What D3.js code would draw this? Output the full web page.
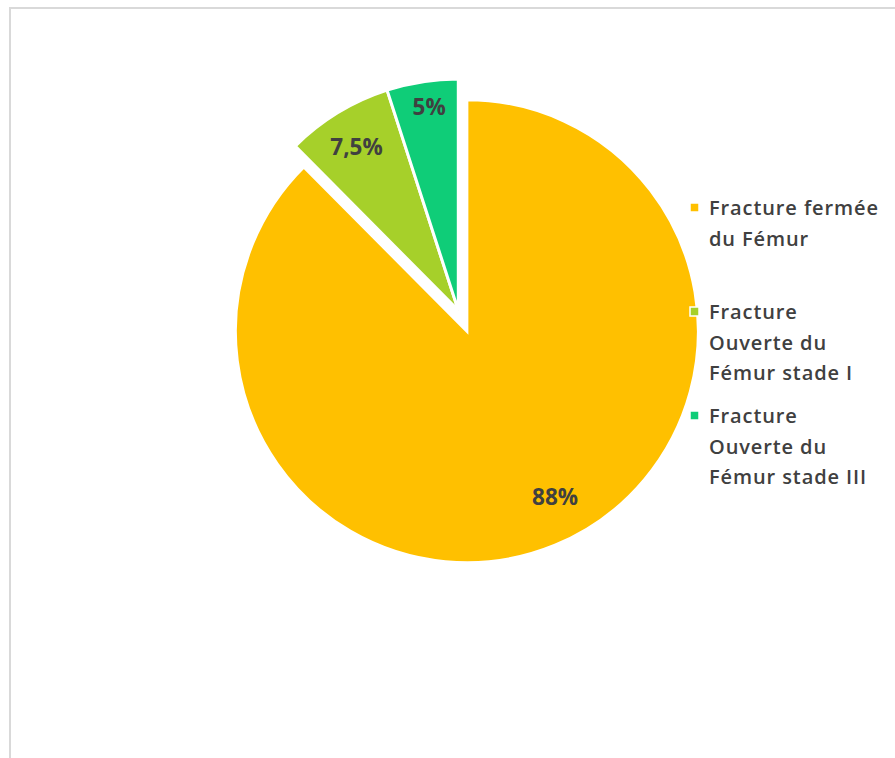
<!DOCTYPE html>
<html>
<head>
<meta charset="utf-8">
<script src="https://cdn.jsdelivr.net/npm/d3@7"></script>
<style>
  html, body { margin: 0; padding: 0; background: #fff; }
  svg { display: block; }
</style>
</head>
<body>
<svg id="chart" width="895" height="758"></svg>
<script>
// Répartition des fractures du fémur
const categories = [
  ["Fracture fermée", "du Fémur"],
  ["Fracture", "Ouverte du", "Fémur stade I"],
  ["Fracture", "Ouverte du", "Fémur stade III"]
];
const values = [88, 7.5, 5];
const valueLabels = ["88%", "7,5%", "5%"];
const colors = ["#FFC000", "#A6D02A", "#0FCD78"];

const W = 895, H = 758;
const svg = d3.select("#chart");

// chart area frame
svg.append("rect")
  .attr("x", 10).attr("y", 8)
  .attr("width", W + 10).attr("height", H + 10)
  .attr("fill", "#fff")
  .attr("stroke", "#d9d9d9")
  .attr("stroke-width", 2);

const cx = 458.3, cy = 310.4, radius = 231.5;
// explosion distance per slice (first slice pulled out)
const explode = [22.5, 0, 0];
// label placement: radial distance and angular nudge (degrees)
const labelRadius = [188, 193, 206];
const labelNudge = [-5.6, -0.5, 0.8];

const pie = d3.pie().sort(null).value(d => d);
const arcs = pie(values);
const arc = d3.arc().innerRadius(0).outerRadius(radius);

const g = svg.append("g").attr("transform", `translate(${cx},${cy})`);

const slices = g.selectAll("g.slice")
  .data(arcs)
  .join("g")
  .attr("class", "slice")
  .attr("transform", (d, i) => {
    const a = (d.startAngle + d.endAngle) / 2;
    return `translate(${explode[i] * Math.sin(a)},${-explode[i] * Math.cos(a)})`;
  });

slices.append("path")
  .attr("d", arc)
  .attr("fill", (d, i) => colors[i])
  .attr("stroke", "#fff")
  .attr("stroke-width", 3)
  .attr("stroke-linejoin", "miter");

slices.append("text")
  .attr("transform", (d, i) => {
    const a = (d.startAngle + d.endAngle) / 2 + labelNudge[i] * Math.PI / 180;
    return `translate(${labelRadius[i] * Math.sin(a)},${-labelRadius[i] * Math.cos(a)})`;
  })
  .attr("text-anchor", "middle")
  .attr("dy", "0.36em")
  .attr("font-family", "'Open Sans', sans-serif")
  .attr("font-weight", 700)
  .attr("font-size", 22.5)
  .attr("fill", "#404040")
  .text((d, i) => valueLabels[i]);

// legend
const legend = svg.append("g").attr("transform", "translate(709,215)");
const slotH = 104, lineH = 30.5;
const items = legend.selectAll("g.item")
  .data(categories)
  .join("g")
  .attr("class", "item")
  .attr("transform", (d, i) => `translate(0,${i * slotH})`);

items.append("rect")
  .attr("x", -19).attr("y", -12)
  .attr("width", 9).attr("height", 9)
  .attr("fill", (d, i) => colors[i])
  .attr("stroke", "#fff")
  .attr("stroke-width", 1.5);

items.append("text")
  .attr("font-family", "'Open Sans', sans-serif")
  .attr("font-weight", 600)
  .attr("font-size", 20)
  .attr("letter-spacing", 0.9)
  .attr("fill", "#404040")
  .selectAll("tspan")
  .data(d => d)
  .join("tspan")
  .attr("x", 0)
  .attr("y", (d, j) => j * lineH)
  .text(d => d);
</script>
</body>
</html>
